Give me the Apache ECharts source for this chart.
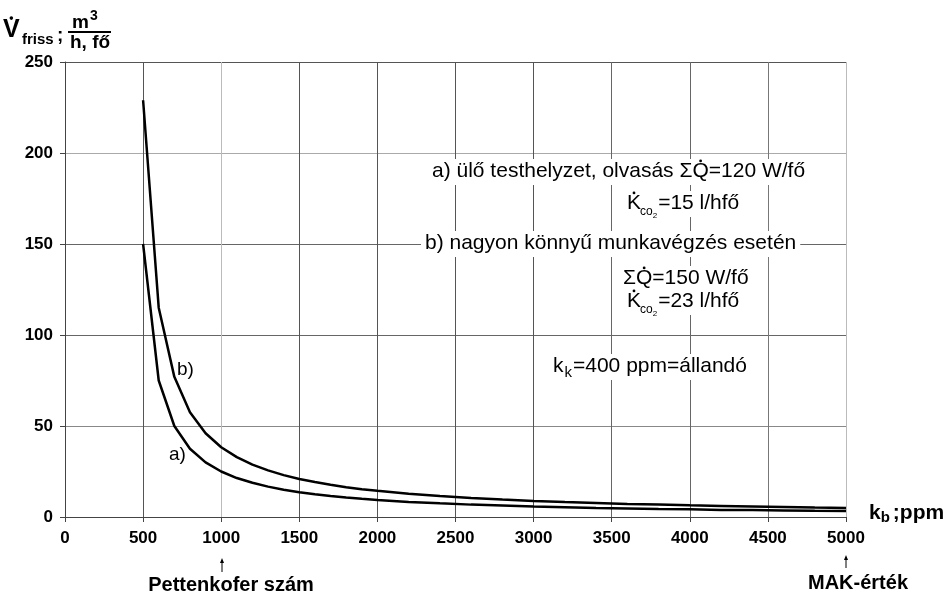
<!DOCTYPE html>
<html>
<head>
<meta charset="utf-8">
<script src="https://cdn.jsdelivr.net/npm/echarts@6.0.0/dist/echarts.min.js"></script>
<style>
  html, body { margin: 0; padding: 0; background: #fff; }
  #v-friss { width: 945px; height: 597px; }
</style>
</head>
<body>
<div id="v-friss"></div>
<script>
// kb [ppm] and fresh air demand [m3/h per person]
var kb = [500, 600, 700, 800, 900, 1000, 1100, 1200, 1300, 1400, 1500, 1600, 1700, 1800, 1900, 2000,
          2200, 2400, 2600, 2800, 3000, 3200, 3400, 3600, 3800, 4000, 4200, 4400, 4600, 4800, 5000];
var curveA = [150, 75, 50, 37.5, 30, 25, 21.4, 18.8, 16.7, 15, 13.6, 12.5, 11.5, 10.7, 10, 9.4,
              8.3, 7.5, 6.8, 6.3, 5.8, 5.4, 5, 4.7, 4.4, 4.2, 3.9, 3.8, 3.6, 3.4, 3.3];
var curveB = [229, 115, 77, 57.5, 46, 38.3, 32.9, 28.8, 25.6, 23, 20.9, 19.2, 17.7, 16.4, 15.3, 14.4,
              12.8, 11.5, 10.5, 9.6, 8.8, 8.2, 7.7, 7.2, 6.8, 6.4, 6.1, 5.8, 5.5, 5.2, 5];
var xRange = [0, 5000, 500];
var yRange = [0, 250, 50];

var FONT = '"Liberation Sans", Arial, sans-serif';
var ctx = document.createElement('canvas').getContext('2d');
function textWidth(t, f) { ctx.font = f; return ctx.measureText(t).width; }

function pairs(xs, ys) {
    return xs.map(function (x, i) { return [x, ys[i]]; });
}

// a row of text pieces placed one after another (baseline y), optional dots above letters
function textRow(x, y, parts, opts) {
    opts = opts || {};
    var els = [], cx = x;
    parts.forEach(function (p) {
        var f = (p.bold ? 'bold ' : '') + p.size + 'px ' + FONT;
        var w = textWidth(p.t, f);
        var px = cx + (p.dx || 0);
        var base = y + (p.dy || 0);
        els.push({
            type: 'text', z: 11, silent: true,
            style: { text: p.t, x: px, y: base - p.size * 0.35, font: f, fill: '#000',
                     align: 'left', verticalAlign: 'middle', textAlign: 'left', textVerticalAlign: 'middle' }
        });
        if (p.dot) {
            els.push({ type: 'circle', z: 11, silent: true,
                shape: { cx: px + w / 2, cy: base - p.size * 0.716 - 3, r: p.bold ? 1.8 : 1.4 },
                style: { fill: '#000' } });
        }
        cx = px + w;
    });
    if (opts.bg) {
        els.unshift({ type: 'rect', z: 10, silent: true,
            shape: { x: x - 4, y: y - 20, width: cx - x + 8, height: 26 },
            style: { fill: '#fff' } });
    }
    return els;
}

function centered(cx, y, t, size) {
    var f = 'bold ' + size + 'px ' + FONT;
    return textRow(cx - textWidth(t, f) / 2, y, [{ t: t, size: size, bold: true }]);
}

function arrow(x, yTop, yBottom) {
    return [
        { type: 'line', z: 11, silent: true, shape: { x1: x, y1: yTop + 3, x2: x, y2: yBottom },
          style: { stroke: '#000', lineWidth: 1 } },
        { type: 'polygon', z: 11, silent: true, shape: { points: [[x, yTop], [x - 2, yTop + 5], [x + 2, yTop + 5]] },
          style: { fill: '#000' } }
    ];
}

var graphics = [].concat(
    // y axis name: V-dot friss ; m3 / h, fő
    textRow(3, 39, [{ t: 'V', size: 25, bold: true, dot: true }]),
    textRow(22, 45, [{ t: 'friss', size: 15, bold: true }]),
    textRow(57, 42, [{ t: ';', size: 19, bold: true }]),
    textRow(72, 29, [{ t: 'm', size: 19, bold: true }, { t: '3', size: 14, bold: true, dy: -8, dx: 1 }]),
    [{ type: 'line', z: 11, silent: true, shape: { x1: 68, y1: 32, x2: 111, y2: 32 }, style: { stroke: '#000', lineWidth: 2 } }],
    textRow(70, 49, [{ t: 'h, fő', size: 19, bold: true }]),
    // x axis name
    textRow(869, 521, [{ t: 'k', size: 21, bold: true }, { t: 'b', size: 15, bold: true, dy: 2 }, { t: ';ppm', size: 21, bold: true, dx: 3 }]),
    arrow(222, 558, 572),
    centered(231, 592, 'Pettenkofer szám', 20),
    arrow(846, 555, 568),
    centered(858, 590, 'MAK-érték', 20),
    // curve labels
    textRow(177, 376, [{ t: 'b)', size: 19 }]),
    textRow(169, 461, [{ t: 'a)', size: 19 }]),
    // legend text
    textRow(432, 179, [{ t: 'a) ülő testhelyzet, olvasás ', size: 21 }, { t: 'Σ', size: 21 }, { t: 'Q', size: 21, dot: true }, { t: '=120 W/fő', size: 21 }], { bg: true }),
    textRow(627, 211, [{ t: 'K', size: 21, dot: true }, { t: 'co', size: 12, dy: 5, dx: -1 }, { t: '2', size: 8, dy: 8 }, { t: '=15 l/hfő', size: 21, dx: 1 }], { bg: true }),
    textRow(425, 251, [{ t: 'b) nagyon könnyű munkavégzés esetén', size: 21 }], { bg: true }),
    textRow(623, 286, [{ t: 'Σ', size: 21 }, { t: 'Q', size: 21, dot: true }, { t: '=150 W/fő', size: 21 }], { bg: true }),
    textRow(627, 309, [{ t: 'K', size: 21, dot: true }, { t: 'co', size: 12, dy: 5, dx: -1 }, { t: '2', size: 8, dy: 8 }, { t: '=23 l/hfő', size: 21, dx: 1 }], { bg: true }),
    textRow(553, 374, [{ t: 'k', size: 21 }, { t: 'k', size: 15, dy: 4, dx: 1 }, { t: '=400 ppm=állandó', size: 21, dx: 1 }], { bg: true })
);

var myChart = echarts.init(document.getElementById('v-friss'));

option = {
    backgroundColor: '#fff',
    animation: false,
    grid: {
        left: 65,
        right: 99,
        top: 62,
        bottom: 80,
        containLabel: false
    },
    xAxis: {
        type: 'value',
        min: xRange[0],
        max: xRange[1],
        interval: xRange[2],
        axisLine: { lineStyle: { color: '#444', width: 1 } },
        axisTick: { show: true, length: 5, lineStyle: { color: '#444' } },
        axisLabel: {
            color: '#000', fontFamily: FONT, fontWeight: 'bold', fontSize: 17, margin: 13,
            formatter: function (v) { return String(v); }
        },
        splitLine: {
            show: true,
            lineStyle: {
                color: ['#555', '#555', '#bbb', '#555', '#555', '#555', '#555', '#666', '#666', '#777', '#bbb'],
                width: 1
            }
        }
    },
    yAxis: {
        type: 'value',
        min: yRange[0],
        max: yRange[1],
        interval: yRange[2],
        axisLine: { show: true, lineStyle: { color: '#444', width: 1 } },
        axisTick: { show: true, length: 5, lineStyle: { color: '#444' } },
        axisLabel: {
            color: '#000', fontFamily: FONT, fontWeight: 'bold', fontSize: 17, margin: 12,
            formatter: function (v) { return String(v); }
        },
        splitLine: {
            show: true,
            lineStyle: { color: ['#444', '#888', '#666', '#666', '#aaa', '#555'], width: 1 }
        }
    },
    series: [
        {
            name: 'a',
            type: 'line',
            data: pairs(kb, curveA),
            showSymbol: false,
            smooth: false,
            lineStyle: { color: '#000', width: 2.5 },
            z: 3
        },
        {
            name: 'b',
            type: 'line',
            data: pairs(kb, curveB),
            showSymbol: false,
            smooth: false,
            lineStyle: { color: '#000', width: 2.5 },
            z: 3
        }
    ],
    graphic: { elements: graphics }
};

myChart.setOption(option);
</script>
</body>
</html>
